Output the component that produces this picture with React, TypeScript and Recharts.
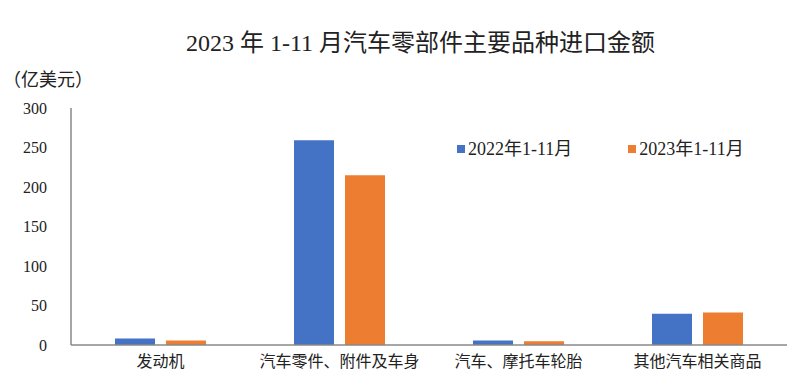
import React from 'react';
import { BarChart, Bar, XAxis, YAxis } from 'recharts';

const categories = ['发动机', '汽车零件、附件及车身', '汽车、摩托车轮胎', '其他汽车相关商品'];
const imports2022 = [8.3, 259.2, 5.8, 39.5];
const imports2023 = [5.8, 215.0, 4.6, 41.2];
const yTicks = [0, 50, 100, 150, 200, 250, 300];

const seriesNames = ['2022年1-11月', '2023年1-11月'];
const seriesColors = ['#4472C4', '#ED7D31'];

const data = categories.map((name, i) => ({
  name,
  y2022: imports2022[i],
  y2023: imports2023[i]
}));

const font = "'Liberation Serif', 'Noto Sans CJK SC', serif";

export default function App() {
  return (
    <div style={{ position: 'fixed', left: 0, top: 0, width: 811, height: 387, background: '#fff' }}>
      <div
        style={{
          position: 'absolute',
          left: 0,
          width: 841,
          top: 28,
          textAlign: 'center',
          fontFamily: font,
          fontSize: 24,
          color: '#222',
          lineHeight: '30px'
        }}>
        2023 年 1-11 月汽车零部件主要品种进口金额
      </div>
      <div
        style={{
          position: 'absolute',
          left: 3,
          top: 67,
          fontFamily: font,
          fontSize: 18,
          color: '#222',
          lineHeight: '26px'
        }}>
        （亿美元）
      </div>
      {/* legend */}
      <div
        style={{
          position: 'absolute',
          left: 457,
          top: 137,
          display: 'flex',
          fontFamily: font,
          fontSize: 18,
          color: '#222',
          lineHeight: '24px'
        }}>
        {seriesNames.map((name, i) =>
        <div key={name} style={{ display: 'flex', alignItems: 'center', marginRight: i === 0 ? 56 : 0 }}>
            <span style={{ width: 8, height: 8, background: seriesColors[i], marginRight: 3, display: 'inline-block' }} />
            <span>{name}</span>
          </div>
        )}
      </div>
      <BarChart
        width={811}
        height={387}
        data={data}
        margin={{ top: 108, right: 24, bottom: 12, left: 0 }}
        barSize={40}
        barGap={11}>
        <XAxis
          dataKey="name"
          height={30}
          tickLine={false}
          tickSize={0}
          tickMargin={11}
          axisLine={{ stroke: '#898989', strokeWidth: 1.5 }}
          tick={{ fill: '#222', fontSize: 16, fontFamily: font }}
          interval={0} />
        <YAxis
          width={71}
          domain={[0, 300]}
          ticks={yTicks}
          tickLine={false}
          tickSize={0}
          tickMargin={24}
          axisLine={{ stroke: '#898989', strokeWidth: 1.5 }}
          tick={{ fill: '#222', fontSize: 16, fontFamily: font }} />
        <Bar dataKey="y2022" name={seriesNames[0]} fill={seriesColors[0]} isAnimationActive={false} />
        <Bar dataKey="y2023" name={seriesNames[1]} fill={seriesColors[1]} isAnimationActive={false} />
      </BarChart>
    </div>);

}
